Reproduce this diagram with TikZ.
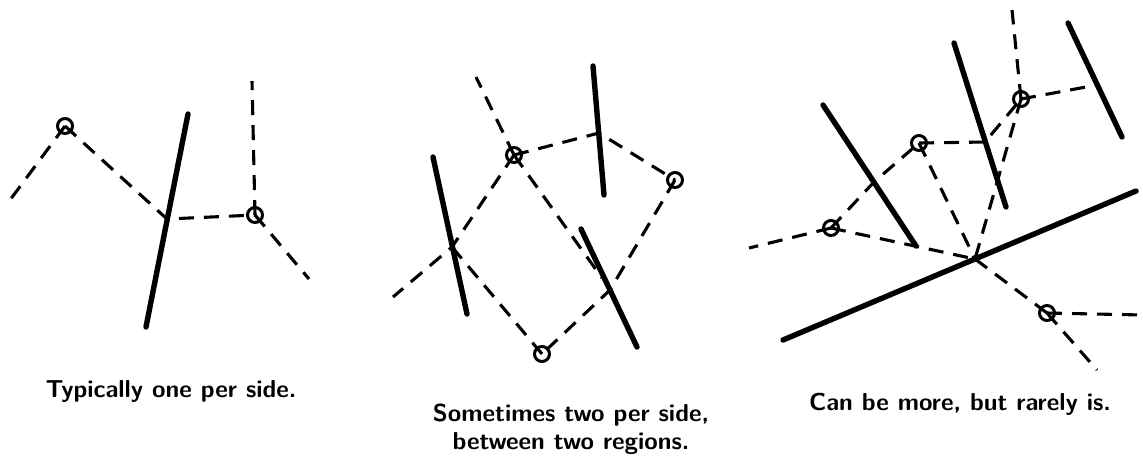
\documentclass[tikz,border=0pt]{standalone}
\begin{document}
\begin{tikzpicture}[x=1pt,y=-1pt,
  wall/.style={line width=5.4pt,line cap=round},
  link/.style={line width=3.1pt,dash pattern=on 15pt off 10pt},
  site/.style={circle,draw,line width=3pt,minimum size=15pt,inner sep=0pt,fill=none},
  caption/.style={font=\sffamily\bfseries\fontsize{24.5}{28}\selectfont,inner sep=0pt,align=center}]
\useasboundingbox (0,0) rectangle (1143,459);
% ---------- panel 1 ----------
\coordinate (p1w1) at (188,114); \coordinate (p1w2) at (146,327);
\coordinate (p1j) at (167,219);
\coordinate (p1e1) at (10,200); \coordinate (p1e2) at (252,81); \coordinate (p1e3) at (309,279);
\node[site] (A) at (65,126) {};
\node[site] (B) at (255,215) {};
\draw[wall] (p1w1) -- (p1w2);
\draw[link] (A.center) -- (p1e1);
\draw[link] (A.center) -- (p1j) -- (B.center);
\draw[link] (B.center) -- (p1e2);
\draw[link] (B.center) -- (p1e3);
% ---------- panel 2 ----------
\coordinate (p2a1) at (433,157); \coordinate (p2a2) at (467,314);
\coordinate (p2b1) at (593,66);  \coordinate (p2b2) at (604,195);
\coordinate (p2c1) at (581,229); \coordinate (p2c2) at (637,347);
\coordinate (p2ja) at (452,247); \coordinate (p2jb) at (599,133);
\coordinate (p2jc) at (610,290); \coordinate (p2jd) at (602,278);
\coordinate (p2e1) at (476,77);  \coordinate (p2e2) at (393,297);
\node[site] (C) at (514,155) {};
\node[site] (D) at (675,180) {};
\node[site] (E) at (542,354) {};
\draw[wall] (p2a1) -- (p2a2);
\draw[wall] (p2b1) -- (p2b2);
\draw[wall] (p2c1) -- (p2c2);
\draw[link] (C.center) -- (p2e1);
\draw[link] (C.center) -- (p2jb) -- (D.center);
\draw[link] (C.center) -- (p2ja) -- (p2e2);
\draw[link] (p2ja) -- (E.center);
\draw[link] (C.center) -- (p2jd);
\draw[link] (D.center) -- (p2jc) -- (E.center);
% ---------- panel 3 ----------
\coordinate (p3m1) at (783,340); \coordinate (p3m2) at (1136,191);
\coordinate (p3a1) at (823,105); \coordinate (p3a2) at (916,246);
\coordinate (p3b1) at (954,43);  \coordinate (p3b2) at (1006,207);
\coordinate (p3c1) at (1068,23); \coordinate (p3c2) at (1122,137);
\coordinate (V) at (975,259);
\coordinate (p3ja) at (874,182); \coordinate (p3jb) at (985,142);
\coordinate (p3jc) at (1097,85);
\coordinate (p3e1) at (749,248); \coordinate (p3e2) at (1012,10);
\coordinate (p3e3) at (1143,315); \coordinate (p3e4) at (1097,370);
\node[site] (F) at (831,228) {};
\node[site] (G) at (919,143) {};
\node[site] (H) at (1021,99) {};
\node[site] (I) at (1047,313) {};
\draw[wall] (p3m1) -- (p3m2);
\draw[wall] (p3a1) -- (p3a2);
\draw[wall] (p3b1) -- (p3b2);
\draw[wall] (p3c1) -- (p3c2);
\draw[link] (F.center) -- (p3e1);
\draw[link] (F.center) -- (p3ja) -- (G.center);
\draw[link] (F.center) -- (V);
\draw[link] (G.center) -- (p3jb) -- (H.center);
\draw[link] (G.center) -- (V);
\draw[link] (H.center) -- (V);
\draw[link] (H.center) -- (p3e2);
\draw[link] (H.center) -- (p3jc);
\draw[link] (V) -- (I.center);
\draw[link] (I.center) -- (p3e3);
\draw[link] (I.center) -- (p3e4);
% ---------- captions ----------
\node[caption,anchor=base] (t1) at (171,397) {Typically one per side.};
\node[caption,anchor=north] (t2) at (571,404) {Sometimes two per side,\\between two regions.};
\node[caption,anchor=base] (t3) at (960,410) {Can be more, but rarely is.};
\end{tikzpicture}
\end{document}
